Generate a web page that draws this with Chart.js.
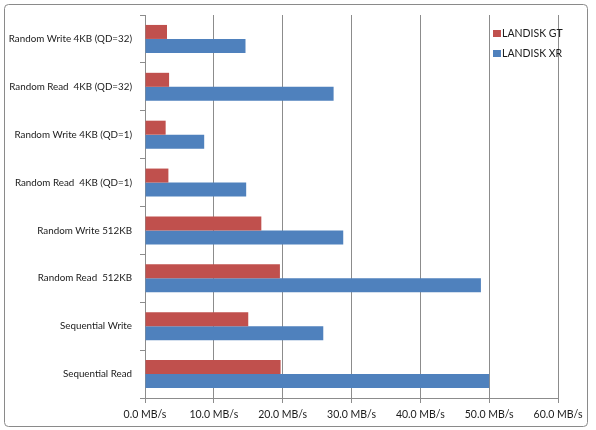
<!DOCTYPE html>
<html>
<head>
<meta charset="utf-8">
<script src="https://cdn.jsdelivr.net/npm/chart.js@4/dist/chart.umd.min.js"></script>
<style>
  html, body { margin: 0; padding: 0; background: #ffffff; }
  #wrap { position: relative; width: 596px; height: 430px; }
</style>
</head>
<body>
<div id="wrap"><canvas id="c" width="596" height="430"></canvas></div>
<script>
const categories = [
  "Random Write 4KB (QD=32)",
  "Random Read  4KB (QD=32)",
  "Random Write 4KB (QD=1)",
  "Random Read  4KB (QD=1)",
  "Random Write 512KB",
  "Random Read  512KB",
  "Sequential Write",
  "Sequential Read"
];
const seriesNames = ["LANDISK GT", "LANDISK XR"];
const landiskGT = [3.2, 3.5, 3.0, 3.4, 16.9, 19.6, 15.0, 19.7];
const landiskXR = [14.6, 27.4, 8.6, 14.7, 28.8, 48.8, 25.9, 50.0];
const xTicks = [0, 10, 20, 30, 40, 50, 60];

const FONT = "Lato, 'Liberation Sans', sans-serif";
const colors = ["#C0504D", "#4F81BD"];

const frameAndLegend = {
  id: "frameAndLegend",
  afterDraw(chart) {
    const ctx = chart.ctx;
    ctx.save();
    ctx.strokeStyle = "#8a8a8a";
    ctx.lineWidth = 1;
    const x = 4.5, y = 4.5, w = 583, h = 422, r = 4;
    ctx.beginPath();
    ctx.moveTo(x + r, y);
    ctx.lineTo(x + w - r, y);
    ctx.quadraticCurveTo(x + w, y, x + w, y + r);
    ctx.lineTo(x + w, y + h - r);
    ctx.quadraticCurveTo(x + w, y + h, x + w - r, y + h);
    ctx.lineTo(x + r, y + h);
    ctx.quadraticCurveTo(x, y + h, x, y + h - r);
    ctx.lineTo(x, y + r);
    ctx.quadraticCurveTo(x, y, x + r, y);
    ctx.stroke();
    ctx.font = "10.5px " + FONT;
    ctx.textBaseline = "middle";
    ctx.textAlign = "left";
    chart.data.datasets.forEach((ds, i) => {
      const ly = 33.5 + i * 20;
      ctx.fillStyle = ds.backgroundColor;
      ctx.fillRect(493, ly - 3.5, 8, 7);
      ctx.fillStyle = "#1a1a1a";
      ctx.fillText(ds.label, 502, ly);
    });
    ctx.restore();
  }
};

new Chart(document.getElementById("c"), {
  type: "bar",
  data: {
    labels: categories,
    datasets: [
      { label: seriesNames[0], data: landiskGT, backgroundColor: colors[0] },
      { label: seriesNames[1], data: landiskXR, backgroundColor: colors[1] }
    ]
  },
  options: {
    indexAxis: "y",
    responsive: false,
    animation: false,
    devicePixelRatio: 1,
    layout: { padding: { top: 15, right: 38, left: 0, bottom: 0 } },
    datasets: { bar: { categoryPercentage: 0.585, barPercentage: 1.0 } },
    plugins: {
      legend: { display: false },
      tooltip: { enabled: false }
    },
    scales: {
      x: {
        min: 0, max: 60,
        afterBuildTicks(scale) { scale.ticks = xTicks.map(v => ({ value: v })); },
        afterFit(scale) { scale.height = 32; },
        grid: {
          color: "#8c8c8c",
          tickLength: 5,
          drawOnChartArea: true
        },
        border: { color: "#8c8c8c" },
        ticks: {
          color: "#1a1a1a",
          font: { family: FONT, size: 10.5 },
          padding: 5,
          maxRotation: 0,
          callback: v => v.toFixed(1) + " MB/s"
        }
      },
      y: {
        afterFit(scale) { scale.width = 145; },
        grid: {
          color: "#8c8c8c",
          tickLength: 5,
          drawOnChartArea: false,
          offset: true
        },
        border: { color: "#8c8c8c" },
        ticks: {
          color: "#1a1a1a",
          font: { family: FONT, size: 9.8 },
          padding: 8
        }
      }
    }
  },
  plugins: [frameAndLegend]
});
</script>
</body>
</html>
